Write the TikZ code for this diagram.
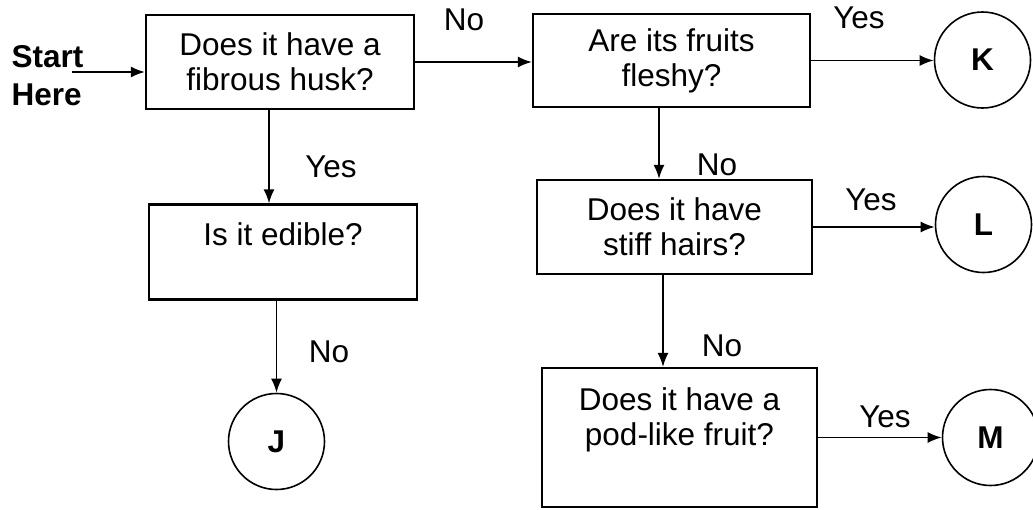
\documentclass[tikz,border=0pt]{standalone}
\usepackage{fontspec}
\setmainfont{Liberation Sans}
\usetikzlibrary{arrows.meta}
\begin{document}
\begin{tikzpicture}[x=1pt, y=-1pt,
	question/.style={draw, line width=2.2pt, align=center, inner sep=0pt, font=\fontsize{31.5}{35}\selectfont},
	key/.style={draw, circle, line width=1.6pt, minimum size=96pt, inner sep=0pt, font=\fontsize{31.5}{35}\selectfont\bfseries},
	lbl/.style={font=\fontsize{31.5}{35}\selectfont},
	arr/.style={line width=1.8pt, -{Latex[length=14pt,width=11pt]}}]
	\useasboundingbox (0,0) rectangle (1033,509);
	% questions
	\node[question, minimum width=268pt, minimum height=94pt] (husk) at (280,62) {Does it have a\\fibrous husk?};
	\node[question, minimum width=277pt, minimum height=93pt] (fleshy) at (671.5,60.5) {Are its fruits\\fleshy?};
	\node[question, minimum width=268pt, minimum height=95pt] (edible) at (283,252) {Is it edible?\\\mbox{}};
	\node[question, minimum width=275pt, minimum height=94pt] (stiff) at (674.5,227) {Does it have\\stiff hairs?};
	\node[question, minimum width=275pt, minimum height=139pt] (pod) at (679.5,437.5) {Does it have a\\pod-like fruit?\\[7pt]\mbox{}};
	% answers
	\node[key] (K) at (982.5,60) {K};
	\node[key] (L) at (983.5,224.5) {L};
	\node[key] (M) at (990.5,437.5) {M};
	\node[key] (J) at (276.5,441.5) {J};
	% start
	\node[lbl, font=\fontsize{31.5}{38}\selectfont\bfseries, align=left] (here) at (47.5,76) {Start\\Here};
	\coordinate (start) at (72,72);
	% arrows
	\draw[arr] (start) -- (start -| husk.west);
	\draw[arr] (husk.east) -- (husk.east -| fleshy.west);
	\draw[arr] (fleshy.east) -- (fleshy.east -| K.west);
	\draw[arr] ([xshift=-11pt]husk.south) -- ([xshift=-11pt]husk.south |- edible.north);
	\draw[arr] (edible.south -| J.north) -- (J.north);
	\draw[arr] ([xshift=-12.5pt]fleshy.south) -- ([xshift=-12.5pt]fleshy.south |- stiff.north);
	\draw[arr] (stiff.east) -- (stiff.east -| L.west);
	\draw[arr] ([xshift=-11.5pt]stiff.south) -- ([xshift=-11.5pt]stiff.south |- pod.north);
	\draw[arr] (pod.east) -- (pod.east -| M.west);
	% labels
	\node[lbl] (no1) at (464,20) {No};
	\node[lbl] (yes1) at (859,18) {Yes};
	\node[lbl] (yes2) at (331,167) {Yes};
	\node[lbl] (no2) at (717,165) {No};
	\node[lbl] (yes3) at (871,200) {Yes};
	\node[lbl] (no3) at (329,352) {No};
	\node[lbl] (no4) at (722,346) {No};
	\node[lbl] (yes4) at (885,417) {Yes};
\end{tikzpicture}
\end{document}
